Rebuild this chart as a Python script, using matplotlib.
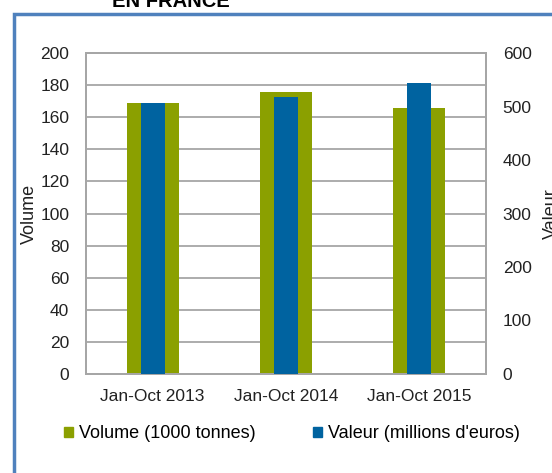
import matplotlib.pyplot as plt
from matplotlib.patches import Rectangle, Patch

plt.rcParams['font.family'] = ['Liberation Sans', 'DejaVu Sans']

periods = ["Jan-Oct 2013", "Jan-Oct 2014", "Jan-Oct 2015"]
volume = [169, 176, 165.5]      # 1000 tonnes
valeur = [507, 517, 544]        # millions d'euros

green = "#8BA000"
blue = "#0063A0"
grey = "#A6A6A6"
txt = "#222222"

fig = plt.figure(figsize=(5.52, 4.73), dpi=100)
ax = fig.add_axes([86/552, 1 - 374/473, 400/552, 321/473])
ax2 = ax.twinx()

x = list(range(len(periods)))
ax.bar(x, volume, width=0.39, color=green, zorder=2)
ax2.bar(x, valeur, width=0.18, color=blue, zorder=3)

ax.set_xlim(-0.5, 2.5)
ax.set_ylim(0, 200)
ax.set_yticks(range(0, 201, 20))
ax2.set_ylim(0, 600)
ax2.set_yticks(range(0, 601, 100))
ax.set_xticks(x)
ax.set_xticklabels(periods)

ax.yaxis.grid(True, color=grey, lw=1.3, zorder=0)
ax.set_axisbelow(True)
for a in (ax, ax2):
    for s in a.spines.values():
        s.set_color(grey)
        s.set_linewidth(1.3)
    a.tick_params(length=0, labelsize=12.5, colors=txt)
ax.tick_params(axis='y', pad=12)
ax.tick_params(axis='x', pad=11)
ax2.tick_params(axis='y', pad=12)

ax.set_ylabel("Volume", fontsize=13, color=txt, labelpad=2)
ax2.set_ylabel("Valeur", fontsize=13, color=txt, labelpad=8)

handles = [Patch(color=green), Patch(color=blue)]
fig.legend(handles, ["Volume (1000 tonnes)", "Valeur (millions d'euros)"],
           loc='center', bbox_to_anchor=(292/552, 1 - 434/473), ncol=2,
           frameon=False, fontsize=13, handlelength=0.5, handleheight=0.5,
           handletextpad=0.3, columnspacing=3.2)

fig.text(171/552, 1 - 7/473, "EN FRANCE", ha='center', va='baseline',
         fontsize=14.5, fontweight='bold')

fig.patches.append(Rectangle((14/552, -0.1), 1.2, 1 - 14/473 + 0.1,
                             transform=fig.transFigure, fill=False,
                             edgecolor="#4F81BD", lw=2.5))

fig.savefig("out.png", dpi=100)
